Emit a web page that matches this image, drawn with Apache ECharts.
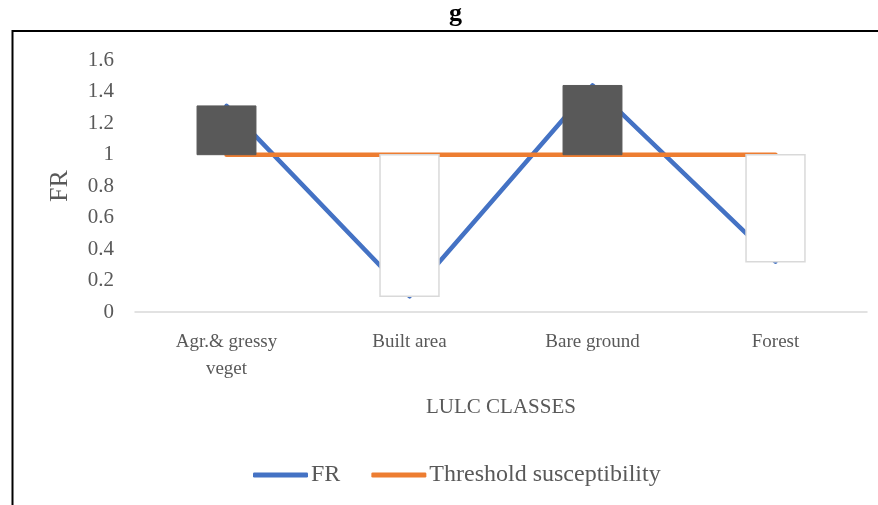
<!DOCTYPE html>
<html>
<head>
<meta charset="utf-8">
<script src="https://cdn.jsdelivr.net/npm/echarts@6/dist/echarts.min.js"></script>
<style>
  html, body { margin: 0; padding: 0; background: #fff; }
  #chart { width: 878px; height: 505px; }
</style>
</head>
<body>
<div id="chart"></div>
<script>
// LULC classes and their frequency ratio (FR) against the susceptibility threshold
const categories = ['Agr.& gressy\nveget', 'Built area', 'Bare ground', 'Forest'];
const frValues = [1.31, 0.1, 1.44, 0.32];
const thresholdValues = [1, 1, 1, 1];
const yTicks = { min: 0, max: 1.6, interval: 0.2 };

const FONT = '"Liberation Serif", "Times New Roman", serif';
const TEXT = '#595959';

// up/down bars spanning from FR to the threshold at each class
const spanData = categories.map((c, i) => [i, frValues[i], thresholdValues[i]]);

const chart = echarts.init(document.getElementById('chart'), null, { renderer: 'canvas' });
chart.setOption({
  animation: false,
  backgroundColor: '#fff',
  title: {
    text: 'g',
    left: 449,
    top: 1,
    padding: 0,
    z: 10,
    textStyle: { fontFamily: FONT, fontWeight: 'bold', fontSize: 26, color: '#000' }
  },
  graphic: [
    { type: 'line', shape: { x1: 12, y1: 31, x2: 878, y2: 31 }, style: { stroke: '#000', lineWidth: 2 }, z: 5 },
    { type: 'line', shape: { x1: 12.5, y1: 30, x2: 12.5, y2: 505 }, style: { stroke: '#000', lineWidth: 2 }, z: 5 }
  ],
  grid: { left: 135, right: 11, top: 60.3, bottom: 193, containLabel: false },
  legend: {
    data: ['FR', 'Threshold susceptibility'],
    left: 253,
    top: 463,
    padding: 0,
    icon: 'roundRect',
    itemWidth: 55,
    itemHeight: 5,
    itemGap: 31,
    textStyle: { fontFamily: FONT, fontSize: 24, color: TEXT, padding: [0, 0, 0, -2] }
  },
  xAxis: {
    type: 'category',
    data: categories,
    boundaryGap: true,
    name: 'LULC CLASSES',
    nameLocation: 'middle',
    nameGap: 85,
    nameTextStyle: { fontFamily: FONT, fontSize: 21, color: TEXT },
    axisLine: { lineStyle: { color: '#d9d9d9', width: 1.5 } },
    axisTick: { show: false },
    axisLabel: { fontFamily: FONT, fontSize: 19, color: TEXT, margin: 17, lineHeight: 27, interval: 0 },
    splitLine: { show: false }
  },
  yAxis: {
    type: 'value',
    min: yTicks.min,
    max: yTicks.max,
    interval: yTicks.interval,
    name: 'FR',
    nameLocation: 'middle',
    nameGap: 62,
    nameTextStyle: { fontFamily: FONT, fontSize: 26, color: TEXT },
    axisLine: { show: false },
    axisTick: { show: false },
    splitLine: { show: false },
    axisLabel: {
      fontFamily: FONT, fontSize: 21, color: TEXT, margin: 21,
      formatter: v => String(+v.toFixed(1))
    }
  },
  series: [
    {
      name: 'FR',
      type: 'line',
      data: frValues,
      symbol: 'none',
      z: 2,
      lineStyle: { color: '#4472C4', width: 4.5, cap: 'round', join: 'round' },
      itemStyle: { color: '#4472C4' }
    },
    {
      name: 'Threshold susceptibility',
      type: 'line',
      data: thresholdValues,
      symbol: 'none',
      z: 3,
      lineStyle: { color: '#ED7D31', width: 4.5, cap: 'round' },
      itemStyle: { color: '#ED7D31' }
    },
    {
      name: 'span',
      type: 'custom',
      z: 4,
      data: spanData,
      renderItem: (params, api) => {
        const i = api.value(0);
        const fr = api.value(1);
        const th = api.value(2);
        const a = api.coord([i, fr]);
        const b = api.coord([i, th]);
        const w = api.size([1, 0])[0] * 0.322;
        const above = fr > th;
        return {
          type: 'rect',
          shape: { x: a[0] - w / 2, y: Math.min(a[1], b[1]), width: w, height: Math.abs(a[1] - b[1]) },
          style: above
            ? { fill: '#595959', stroke: '#595959', lineWidth: 1 }
            : { fill: '#fff', stroke: '#d9d9d9', lineWidth: 1.5 }
        };
      }
    }
  ]
});
</script>
</body>
</html>
